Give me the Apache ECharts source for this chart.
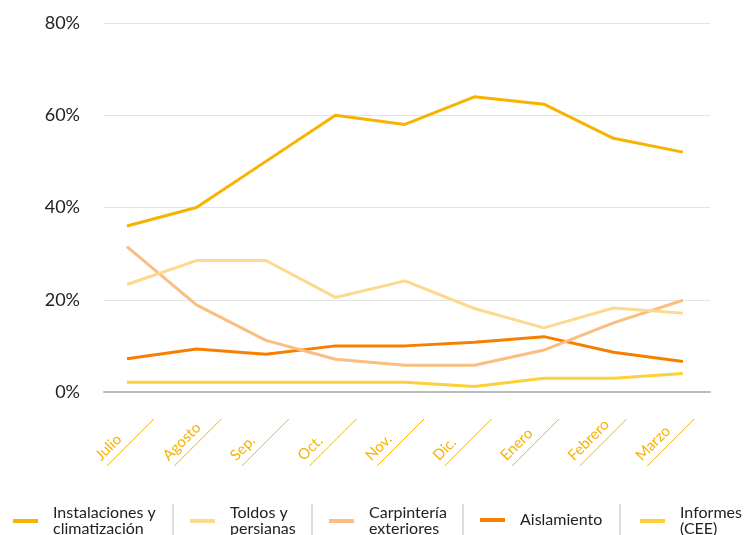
<!DOCTYPE html>
<html><head><meta charset="utf-8">
<script src="https://cdn.jsdelivr.net/npm/echarts@6/dist/echarts.min.js"></script>
<style>html,body{margin:0;padding:0;background:#fff}#c{width:749px;height:535px}</style>
</head><body><div id="c"></div>
<script>
const categories = ['Julio','Agosto','Sep.','Oct.','Nov.','Dic.','Enero','Febrero','Marzo'];
const yTicks = [0, 20, 40, 60, 80];
const seriesNames = ['Instalaciones y\nclimatización','Toldos y\npersianas','Carpintería\nexteriores','Aislamiento','Informes\n(CEE)'];
const instalaciones = [36, 40, 50, 60, 58, 64, 62.4, 55, 52];
const toldos = [23.3, 28.5, 28.5, 20.5, 24.1, 18.1, 13.9, 18.2, 17.1];
const carpinteria = [31.5, 18.9, 11.2, 7.1, 5.8, 5.8, 9.1, 15, 19.9];
const aislamiento = [7.2, 9.3, 8.2, 10, 10, 10.8, 12, 8.6, 6.6];
const informes = [2.1, 2.1, 2.1, 2.1, 2.1, 1.2, 3, 3, 4];
const colors = ['#f6b300', '#fdd990', '#f9be80', '#f77f00', '#fdd03a'];
const values = [instalaciones, toldos, carpinteria, aislamiento, informes];

const FONT = 'Lato';
const chart = echarts.init(document.getElementById('c'));
const legendLeft = [13, 190, 329, 480, 640];
const legendTop = [505, 505, 505, 512, 505];
const sepX = [173, 312, 463, 620];

const series = values.map((v, k) => ({
  name: seriesNames[k], type: 'line', xAxisIndex: 0, yAxisIndex: 0,
  data: v.map((y, i) => [i, y]), showSymbol: false, symbol: 'none',
  lineStyle: { color: colors[k], width: 3 }, itemStyle: { color: colors[k] },
  z: 10 - k
}));
series.push({
  type: 'custom', xAxisIndex: 1, yAxisIndex: 1, silent: true, clip: false,
  data: categories.map((c, i) => [i, 0]),
  renderItem: (params, api) => {
    const p = api.coord([api.value(0), 0]);
    return { type: 'line', shape: { x1: p[0] + 9, y1: p[1] + 74, x2: p[0] + 56, y2: p[1] + 27 },
      style: { stroke: '#f6b300', lineWidth: 1 } };
  }
});

chart.setOption({
  animation: false,
  textStyle: { fontFamily: FONT },
  grid: [
    { left: 104, right: 39, top: 23, bottom: 143 },
    { left: 64, width: 608, top: 300, bottom: 143 }
  ],
  xAxis: [
    { type: 'value', gridIndex: 0, min: -0.33, max: 8.39,
      axisLine: { show: true, onZero: false, lineStyle: { color: '#bbbbbb', width: 2 } },
      axisTick: { show: false }, axisLabel: { show: false }, splitLine: { show: false } },
    { type: 'category', gridIndex: 1, data: categories, boundaryGap: true,
      axisLine: { show: false }, axisTick: { show: false }, splitLine: { show: false },
      axisLabel: { rotate: 45, align: 'left', verticalAlign: 'middle', margin: 66, interval: 0,
        color: '#f6b300', fontSize: 15, fontFamily: FONT } }
  ],
  yAxis: [
    { type: 'value', gridIndex: 0, min: 0, max: 80, interval: 20,
      axisLine: { show: false }, axisTick: { show: false },
      splitLine: { lineStyle: { color: '#e4e4e4', width: 1 } },
      axisLabel: { formatter: v => yTicks.includes(v) ? v + '%' : '', color: '#222', fontSize: 18, margin: 24, fontFamily: FONT } },
    { type: 'value', gridIndex: 1, min: 0, max: 1, show: false }
  ],
  legend: seriesNames.map((n, k) => ({
    data: [{ name: n, icon: 'rect' }], left: legendLeft[k], top: legendTop[k],
    itemWidth: 25, itemHeight: 4, selectedMode: false, padding: 0,
    textStyle: { color: '#222', fontSize: 16, lineHeight: 16, fontFamily: FONT, padding: [0, 0, 0, 10] }
  })),
  graphic: sepX.map(x => ({ type: 'line', shape: { x1: x, y1: 504, x2: x, y2: 535 },
    style: { stroke: '#bbbbbb', lineWidth: 1 }, silent: true })),
  series: series
});
</script></body></html>
